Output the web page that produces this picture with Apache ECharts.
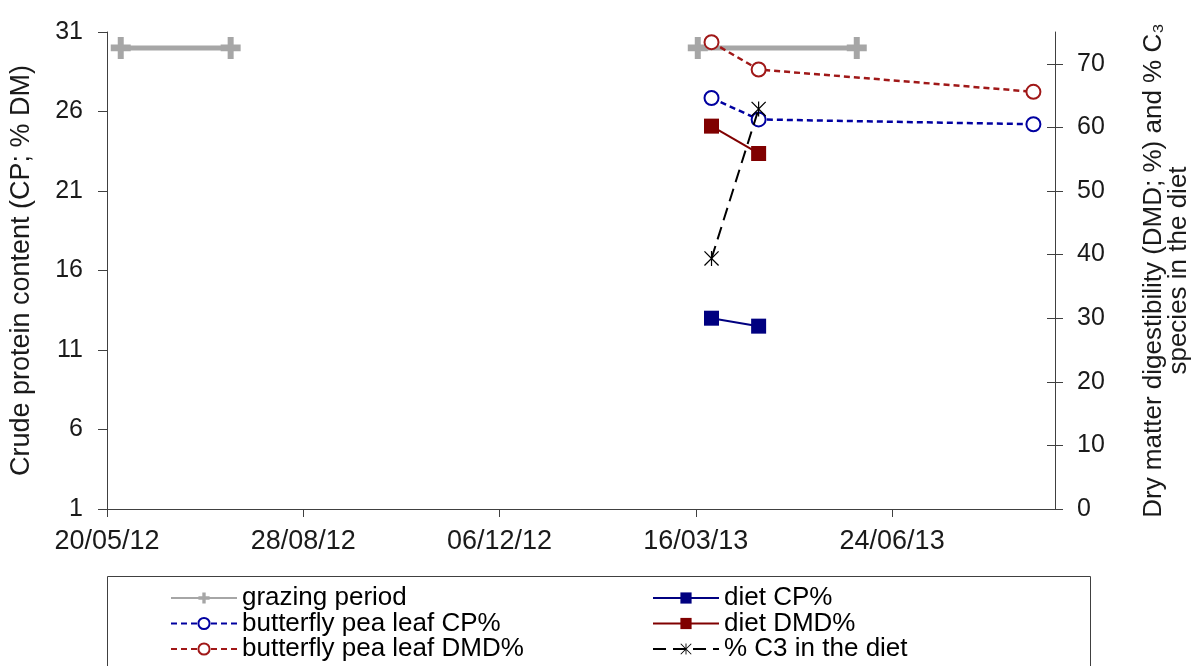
<!DOCTYPE html>
<html><head><meta charset="utf-8">
<script src="https://cdn.jsdelivr.net/npm/echarts@6/dist/echarts.min.js"></script>
<style>html,body{margin:0;padding:0;background:#fff}#c{width:1202px;height:666px}</style>
</head><body><div id="c"></div>
<script>
// ---- data ----
const originDate = '2012-05-20';
const xTickLabels = ['20/05/12', '28/08/12', '06/12/12', '16/03/13', '24/06/13'];
const xAxisEndDate = '2013-09-15';
const leftTicks = [1, 6, 11, 16, 21, 26, 31];
const rightTicks = [0, 10, 20, 30, 40, 50, 60, 70];
const grazingStarts = ['2012-05-27', '2013-03-17'];
const grazingEnds = ['2012-07-22', '2013-06-06'];
const grazingLevel = 30;
const sampleDates = ['2013-03-24', '2013-04-17', '2013-09-04'];
const dietCP = [13.0, 12.5];
const peaLeafCP = [26.85, 25.5, 25.2];
const dietDMD = [60.2, 55.9];
const peaLeafDMD = [73.4, 69.1, 65.6];
const c3Diet = [39.4, 62.9];
const legendColumns = [
  ['grazing period', 'butterfly pea leaf CP%', 'butterfly pea leaf DMD%'],
  ['diet CP%', 'diet DMD%', '% C3 in the diet']
];

// ---- helpers ----
const DAY = 86400000;
function isoToDay(s) {
  const [y, m, d] = s.split('-').map(Number);
  const [oy, om, od] = originDate.split('-').map(Number);
  return (Date.UTC(y, m - 1, d) - Date.UTC(oy, om - 1, od)) / DAY;
}
function labelToDay(s) {
  const [d, m, y] = s.split('/').map(Number);
  return isoToDay((2000 + y) + '-' + m + '-' + d);
}
const xTickDays = xTickLabels.map(labelToDay);
const pts = (dates, vals) => vals.map((v, i) => [isoToDay(dates[i]), v]);

const FONT = 'Liberation Sans, Arial, Helvetica, sans-serif';
const AX = '#404040';
const TXT = '#1a1a1a';
const plusPath = 'path://M7 0 L13 0 L13 7 L20 7 L20 13 L13 13 L13 20 L7 20 L7 13 L0 13 L0 7 L7 7 Z';
const starPath = 'path://M9.2 0 L10.8 0 L10.8 20 L9.2 20 Z M0 1.2 L1.2 0 L20 18.8 L18.8 20 Z M18.8 0 L20 1.2 L1.2 20 L0 18.8 Z';

const grazingSeries = grazingStarts.map((s, i) => ({
  name: 'grazing period', type: 'line', yAxisIndex: 0, z: 1,
  data: [[isoToDay(s), grazingLevel], [isoToDay(grazingEnds[i]), grazingLevel]],
  color: '#A6A6A6', lineStyle: { width: 5, color: '#A6A6A6' },
  symbol: plusPath, symbolSize: [20, 22], itemStyle: { color: '#A6A6A6' }
}));

const colLeft = [170, 652];
const rowTop = [585, 610.5, 636];
const legends = [];
legendColumns.forEach((col, ci) => col.forEach((name, ri) => legends.push({
  data: [name], orient: 'horizontal', left: colLeft[ci], top: rowTop[ri],
  itemWidth: 66, itemHeight: 14, padding: 0, selectedMode: false,
  textStyle: { fontSize: 26, color: '#000', fontFamily: FONT }
})));

const chart = echarts.init(document.getElementById('c'), null, { renderer: 'canvas' });
chart.setOption({
  animation: false,
  backgroundColor: '#fff',
  textStyle: { fontFamily: FONT },
  grid: { left: 105, right: 147, top: 32, bottom: 157, containLabel: false },
  xAxis: {
    type: 'value', min: 0, max: isoToDay(xAxisEndDate),
    axisLine: { show: true, lineStyle: { color: AX, width: 1 } },
    axisTick: { show: true, inside: false, length: 8, customValues: xTickDays, lineStyle: { color: AX } },
    axisLabel: {
      customValues: xTickDays, margin: 19, fontSize: 27, color: TXT, fontFamily: FONT,
      formatter: v => { const i = xTickDays.indexOf(v); return i >= 0 ? xTickLabels[i] : ''; }
    },
    splitLine: { show: false }
  },
  yAxis: [
    {
      type: 'value', position: 'left', min: 1, max: 31,
      name: 'Crude protein content (CP; % DM)', nameLocation: 'middle', nameRotate: 90, nameGap: 72,
      nameTextStyle: { fontSize: 27, color: TXT, fontFamily: FONT },
      axisLine: { show: true, lineStyle: { color: AX, width: 1 } },
      axisTick: { show: true, inside: false, length: 9, customValues: leftTicks, lineStyle: { color: AX } },
      axisLabel: { customValues: leftTicks, margin: 24, fontSize: 25, color: TXT, fontFamily: FONT },
      splitLine: { show: false }
    },
    {
      type: 'value', position: 'right', min: 0, max: 75,
      name: 'Dry matter digestibility (DMD; %) and % C\u2083\nspecies in the diet',
      nameLocation: 'middle', nameRotate: 90, nameGap: 86,
      nameTextStyle: { fontSize: 26, lineHeight: 25, color: TXT, fontFamily: FONT, align: 'center' },
      axisLine: { show: true, lineStyle: { color: AX, width: 1 } },
      axisTick: { show: true, inside: false, length: 8, customValues: rightTicks, lineStyle: { color: AX } },
      axisLabel: { customValues: rightTicks, margin: 22, fontSize: 25, color: TXT, fontFamily: FONT },
      splitLine: { show: false }
    },
    {
      type: 'value', position: 'right', min: 0, max: 75,
      axisLine: { show: false },
      axisTick: { show: true, inside: true, length: 8, customValues: rightTicks, lineStyle: { color: AX } },
      axisLabel: { show: false },
      splitLine: { show: false }
    }
  ],
  legend: legends,
  graphic: [
    { type: 'rect', shape: { x: 107.5, y: 576.5, width: 983, height: 120 },
      style: { fill: 'none', stroke: '#404040', lineWidth: 1 }, silent: true }
  ],
  series: [
    ...grazingSeries,
    {
      name: 'diet CP%', type: 'line', yAxisIndex: 0, z: 3,
      data: pts(sampleDates, dietCP),
      color: '#000080', lineStyle: { width: 2, color: '#000080' },
      symbol: 'rect', symbolSize: 15, itemStyle: { color: '#000080' }
    },
    {
      name: 'butterfly pea leaf CP%', type: 'line', yAxisIndex: 0, z: 3,
      data: pts(sampleDates, peaLeafCP),
      color: '#0000A0', lineStyle: { width: 2.5, type: [6, 4], color: '#0000A0' },
      symbol: 'emptyCircle', symbolSize: 14,
      itemStyle: { color: '#0000A0', borderWidth: 2.5 }
    },
    {
      name: 'diet DMD%', type: 'line', yAxisIndex: 1, z: 3,
      data: pts(sampleDates, dietDMD),
      color: '#800000', lineStyle: { width: 2, color: '#800000' },
      symbol: 'rect', symbolSize: 15, itemStyle: { color: '#800000' }
    },
    {
      name: 'butterfly pea leaf DMD%', type: 'line', yAxisIndex: 1, z: 3,
      data: pts(sampleDates, peaLeafDMD),
      color: '#A01818', lineStyle: { width: 2.5, type: [6, 4], color: '#A01818' },
      symbol: 'emptyCircle', symbolSize: 14,
      itemStyle: { color: '#A01818', borderWidth: 2.5 }
    },
    {
      name: '% C3 in the diet', type: 'line', yAxisIndex: 1, z: 4,
      data: pts(sampleDates, c3Diet),
      color: '#000', lineStyle: { width: 2, type: [13, 7], color: '#000' },
      symbol: starPath, symbolSize: 15, itemStyle: { color: '#000' }
    }
  ]
});
</script>
</body></html>
